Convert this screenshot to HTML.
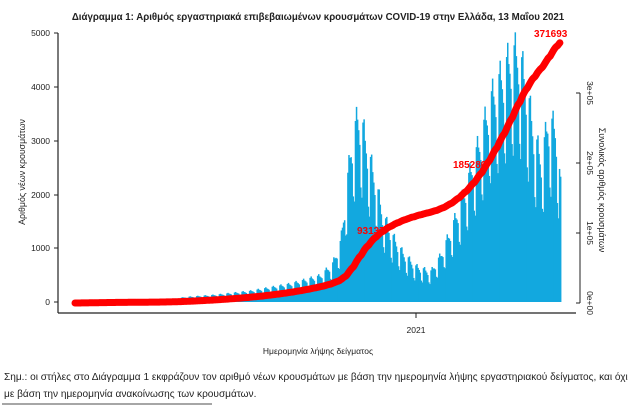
<!DOCTYPE html>
<html><head><meta charset="utf-8"><style>
body{margin:0;background:#fff;width:635px;height:406px;overflow:hidden;font-family:"Liberation Sans",sans-serif}
svg{position:absolute;left:0;top:0}
.t{font-family:"Liberation Sans",sans-serif;fill:#222}
</style></head><body>
<svg id="s" width="635" height="406" xmlns="http://www.w3.org/2000/svg">
<g id="bars"></g>
<path id="cum" fill="none" stroke="#f00" stroke-width="7" stroke-linecap="round" stroke-linejoin="round"/>
<text x="318" y="20" text-anchor="middle" class="t" font-size="9.7" font-weight="bold" fill="#111">Διάγραμμα 1: Αριθμός εργαστηριακά επιβεβαιωμένων κρουσμάτων COVID-19 στην Ελλάδα, 13 Μαΐου 2021</text>
<line x1="58" y1="33" x2="58" y2="313" stroke="#222" stroke-width="1.2"/>
<line x1="58" y1="313" x2="576" y2="313" stroke="#222" stroke-width="1.2"/>
<line x1="416" y1="313" x2="416" y2="318" stroke="#222"/>
<g stroke="#222"><line x1="54" y1="33" x2="58" y2="33"/><line x1="54" y1="87" x2="58" y2="87"/><line x1="54" y1="141" x2="58" y2="141"/><line x1="54" y1="195" x2="58" y2="195"/><line x1="54" y1="248" x2="58" y2="248"/><line x1="54" y1="302" x2="58" y2="302"/></g>
<g class="t" font-size="8.5" text-anchor="end"><text x="50" y="36">5000</text><text x="50" y="90">4000</text><text x="50" y="144">3000</text><text x="50" y="198">2000</text><text x="50" y="251">1000</text><text x="50" y="305">0</text></g>
<text transform="translate(25,172) rotate(-90)" text-anchor="middle" class="t" font-size="8.8">Αριθμός νέων κρουσμάτων</text>
<line x1="580" y1="93" x2="580" y2="303" stroke="#222"/>
<g stroke="#222"><line x1="576" y1="93" x2="580" y2="93"/><line x1="576" y1="163" x2="580" y2="163"/><line x1="576" y1="233" x2="580" y2="233"/><line x1="576" y1="303" x2="580" y2="303"/></g>
<g class="t" font-size="8.5" text-anchor="middle"><text transform="translate(587,93) rotate(90)">3e+05</text><text transform="translate(587,163) rotate(90)">2e+05</text><text transform="translate(587,233) rotate(90)">1e+05</text><text transform="translate(587,303) rotate(90)">0e+00</text></g>
<text transform="translate(599,190) rotate(90)" text-anchor="middle" class="t" font-size="8.8">Συνολικός αριθμός κρουσμάτων</text>
<text x="416" y="333" text-anchor="middle" class="t" font-size="8.5">2021</text>
<text x="318" y="354" text-anchor="middle" class="t" font-size="8.5">Ημερομηνία λήψης δείγματος</text>
<text x="4" y="380" class="t" font-size="10.1" fill="#111">Σημ.: οι στήλες στο Διάγραμμα 1 εκφράζουν τον αριθμό νέων κρουσμάτων με βάση την ημερομηνία λήψης εργαστηριακού δείγματος, και όχι</text>
<text x="4" y="397" class="t" font-size="10.1" fill="#111">με βάση την ημερομηνία ανακοίνωσης των κρουσμάτων.</text>
<line x1="2" y1="404" x2="212" y2="404" stroke="#111" stroke-width="0.8"/>
<g font-weight="bold" fill="#f00" font-size="10" font-family="Liberation Sans,sans-serif"><text x="357" y="234">93137</text><text x="453" y="168">185280</text><text x="534" y="37">371693</text></g>
</svg>
<script>
var kp=[[75,10],[90,40],[120,20],[160,20],[185,90],[215,130],[250,200],[290,330],[320,480],[332,700],[340,1100],[345,1900],[350,2800],[357,3400],[362,3200],[368,2700],[375,2200],[382,1600],[392,1200],[402,900],[415,650],[430,550],[440,850],[450,1300],[460,1800],[470,2400],[480,3000],[490,3700],[500,4100],[510,4500],[518,4600],[526,3900],[534,3000],[541,2600],[547,3300],[555,3200],[560,2100]];
function env(x){for(var i=1;i<kp.length;i++){if(x<=kp[i][0]){var a=kp[i-1],b=kp[i];return a[1]+(b[1]-a[1])*(x-a[0])/(b[0]-a[0]);}}return kp[kp.length-1][1];}
var wf=[1.05,1.1,1.0,0.95,0.88,0.65,0.6];
var g=document.getElementById('bars'),h='',vals=[],xs=[];
var n=Math.round((560-75)/1.08);
for(var d=0;d<=n;d++){var x=75+d*1.08;var v=env(x)*wf[d%7];vals.push(v);xs.push(x);
var hh=v*0.0538;h+='<rect x="'+x.toFixed(2)+'" y="'+(302-hh).toFixed(2)+'" width="1.5" height="'+hh.toFixed(2)+'" fill="#12a8df"/>';}
g.innerHTML=h;
var c=0,cs=[];for(var i=0;i<vals.length;i++){c+=vals[i];cs.push(c);}
var k=371693/c,p='';
for(var i=0;i<cs.length;i++){var y=303-cs[i]*k*0.0007;p+=(i?'L':'M')+xs[i].toFixed(1)+' '+y.toFixed(1);}
document.getElementById('cum').setAttribute('d',p);
</script>
</body></html>
